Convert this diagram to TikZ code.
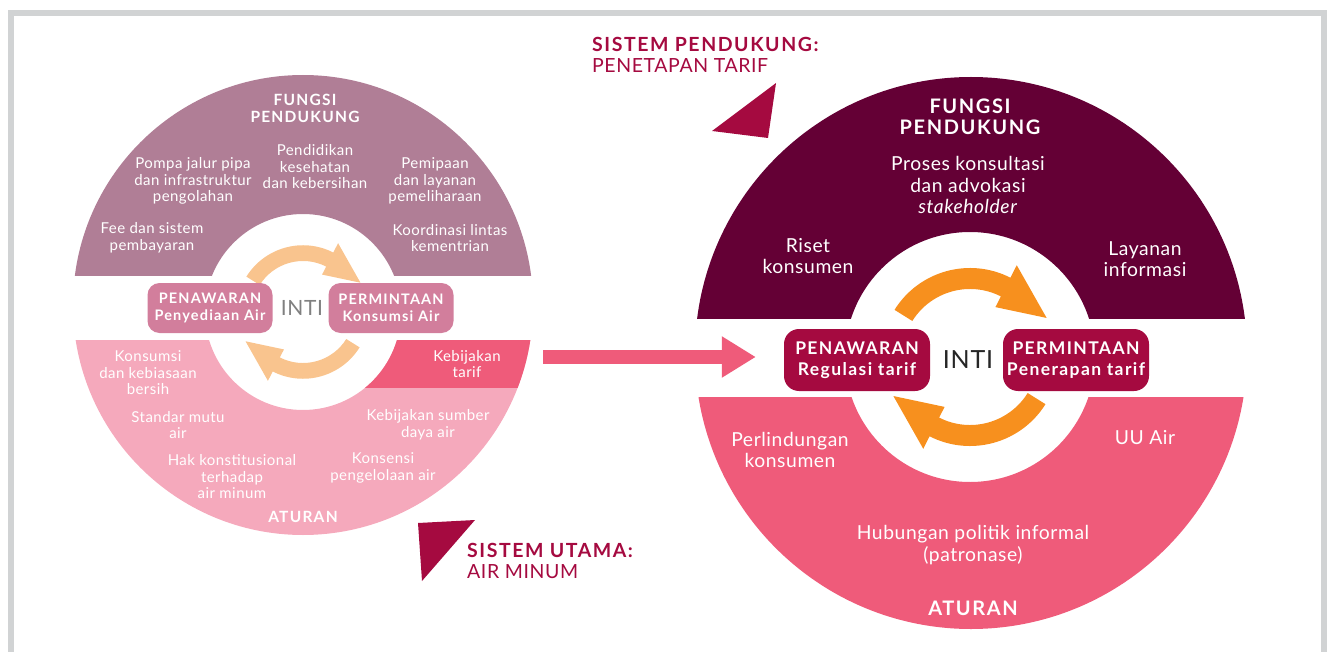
\documentclass[tikz,border=0pt]{standalone}
\usepackage{fontspec}
\setmainfont{Lato}[LetterSpace=3,BoldFeatures={LetterSpace=8}]
\usetikzlibrary{arrows.meta,positioning,calc}

\definecolor{framegray}{HTML}{D1D3D4}
\definecolor{mauve}{HTML}{B07E96}
\definecolor{blush}{HTML}{F5A9BC}
\definecolor{rose}{HTML}{EF5B7A}
\definecolor{lboxc}{HTML}{D27E9C}
\definecolor{plum}{HTML}{640035}
\definecolor{crimson}{HTML}{A50A40}
\definecolor{peach}{HTML}{F9C48E}
\definecolor{tangerine}{HTML}{F7901E}

% circular arrow: centre, rotation, scale, colour
\newcommand{\cyclearrow}[4]{%
  \fill[#4,shift={#1},rotate=#2,scale=#3]
    (148:68) arc[start angle=148,end angle=63,radius=68]
    -- (63:56) -- (27:86) -- (63:103) -- (63:89)
    arc[start angle=63,end angle=148,radius=89] -- cycle;}

\begin{document}
\begin{tikzpicture}[x=1pt,y=1pt,
    ltext/.style={text=white,align=center,font=\fontsize{15}{16.5}\selectfont},
    lhead/.style={text=white,align=center,font=\bfseries\fontsize{15.5}{17}\selectfont},
    rtext/.style={text=white,align=center,font=\fontsize{19.3}{21.5}\selectfont},
    rhead/.style={text=white,align=center,font=\bfseries\fontsize{20}{21}\selectfont},
    lbox/.style={fill=lboxc,text=white,rounded corners=12pt,align=center,
      minimum width=125pt,minimum height=50pt,inner sep=2pt,
      font=\bfseries\fontsize{14.5}{17}\selectfont},
    rbox/.style={fill=crimson,text=white,rounded corners=15pt,align=center,
      minimum width=146pt,minimum height=62pt,inner sep=2pt,
      font=\bfseries\fontsize{17.5}{21}\selectfont},
    title/.style={text=crimson,align=left,anchor=north west,inner sep=0pt,
      font=\fontsize{19.5}{21}\selectfont}]

    \useasboundingbox (0,0) rectangle (1327,-652);

    % Frame
    \draw[framegray,line width=6pt] (11.3,-652) -- (11.3,-13.5) -- (1323.5,-13.5) -- (1323.5,-652);

    % Left circle: bands
    \coordinate (lcore) at (303,-312);
    \begin{scope}
        \clip (60,-275) rectangle (545,-60);
        \fill[mauve,even odd rule] (303,-305) circle (230) (lcore) circle (98);
    \end{scope}
    \begin{scope}
        \clip (60,-340) rectangle (545,-550);
        \fill[blush,even odd rule] (303,-305) circle (230) (lcore) circle (98);
    \end{scope}
    \begin{scope}
        \clip (303,-340) rectangle (545,-387);
        \fill[rose,even odd rule] (303,-305) circle (230) (lcore) circle (98);
    \end{scope}

    % Right circle: bands
    \coordinate (rcore) at (970,-357);
    \begin{scope}
        \clip (680,-318) rectangle (1260,-60);
        \fill[plum,even odd rule] (971,-353) circle (276) (rcore) circle (125);
    \end{scope}
    \begin{scope}
        \clip (680,-397) rectangle (1260,-640);
        \fill[rose,even odd rule] (971,-353) circle (276) (rcore) circle (125);
    \end{scope}

    % Cycle arrows
    \cyclearrow{(lcore)}{0}{0.75}{peach}
    \cyclearrow{(lcore)}{180}{0.75}{peach}
    \cyclearrow{(rcore)}{0}{1}{tangerine}
    \cyclearrow{(rcore)}{180}{1}{tangerine}

    % Left circle: labels
    \node[lhead] (lfungsi) at (305,-108) {FUNGSI\\PENDUKUNG};
    \node[ltext] (lpompa) at (193,-181) {Pompa jalur pipa\\dan infrastruktur\\pengolahan};
    \node[ltext] (ldidik) at (315,-167) {Pendidikan\\kesehatan\\dan kebersihan};
    \node[ltext] (lpipa) at (435,-181) {Pemipaan\\dan layanan\\pemeliharaan};
    \node[ltext] (lfee) at (152,-238) {Fee dan sistem\\pembayaran};
    \node[ltext] (lkoord) at (450,-238) {Koordinasi lintas\\kementrian};

    \node[lbox] (lpen) at (210,-308) {PENAWARAN\\Penyediaan Air};
    \node[lbox] (lper) at (391,-308) {PERMINTAAN\\Konsumsi Air};
    \node[text=gray,font=\fontsize{21}{24}\selectfont] (linti) at (302,-308) {INTI};

    \node[ltext] (lkons) at (148,-373) {Konsumsi\\dan kebiasaan\\bersih};
    \node[ltext] (ltarif) at (467,-364) {Kebijakan\\tarif};
    \node[ltext] (lmutu) at (178,-425) {Standar mutu\\air};
    \node[ltext] (lsumber) at (428,-425) {Kebijakan sumber\\daya air};
    \node[ltext] (lhak) at (232,-477) {Hak konstitusional\\terhadap\\air minum};
    \node[ltext] (lkonsensi) at (383,-468) {Konsensi\\pengelolaan air};
    \node[lhead] (laturan) at (303,-517) {ATURAN};

    % Right circle: labels
    \node[rhead] (rfungsi) at (970,-117) {FUNGSI\\PENDUKUNG};
    \node[rtext] (rproses) at (968,-185) {Proses konsultasi\\dan advokasi\\\textit{stakeholder}};
    \node[rtext] (rriset) at (808,-256) {Riset\\konsumen};
    \node[rtext] (rlayanan) at (1145,-259) {Layanan\\informasi};

    \node[rbox] (rpen) at (857,-360) {PENAWARAN\\Regulasi tarif};
    \node[rbox] (rper) at (1076,-360) {PERMINTAAN\\Penerapan tarif};
    \node[text=black!85,font=\fontsize{25}{28}\selectfont] (rinti) at (968,-360) {INTI};

    \node[rtext] (rperlin) at (790,-450) {Perlindungan\\konsumen};
    \node[rtext] (ruu) at (1145,-438) {UU Air};
    \node[rtext] (rhub) at (973,-545) {Hubungan politik informal\\(patronase)};
    \node[rhead] (raturan) at (973,-608) {ATURAN};

    % System titles
    \node[title] (tpendukung) at (592,-37) {\textbf{SISTEM PENDUKUNG:}\\PENETAPAN TARIF};
    \fill[crimson] (776,-83) -- (712,-131) -- (768,-138) -- cycle;
    \node[title] (tutama) at (467,-543) {\textbf{SISTEM UTAMA:}\\AIR MINUM};
    \fill[crimson] (418,-523) -- (475,-520) -- (422,-581) -- cycle;

    % Main system feeds the supporting system
    \coordinate (flowtail) at (543,-357);
    \draw[rose,line width=14pt,-{Triangle[width=39pt,length=34pt]},shorten >=28pt]
        (flowtail) -- (flowtail -| rpen.west);
\end{tikzpicture}
\end{document}
